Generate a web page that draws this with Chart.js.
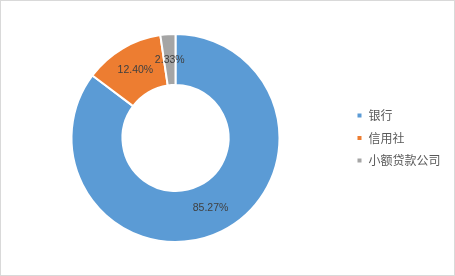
<!DOCTYPE html>
<html>
<head>
<meta charset="utf-8">
<script src="https://cdn.jsdelivr.net/npm/chart.js@4/dist/chart.umd.min.js"></script>
<style>
  html, body { margin: 0; padding: 0; background: #fff; }
  #wrap { position: relative; width: 455px; height: 276px; }
  #frame { position: absolute; left: 0; top: 0; width: 455px; height: 276px;
           box-sizing: border-box; border: 1px solid #d9d9d9; pointer-events: none; }
</style>
</head>
<body>
<div id="wrap">
  <canvas id="donut" width="455" height="276"></canvas>
  <div id="frame"></div>
</div>
<script>
// 数据
const categories = ["银行", "信用社", "小额贷款公司"];
const shares = [85.27, 12.40, 2.33];
const sliceColors = ["#5B9BD5", "#ED7D31", "#A5A5A5"];

// 扇区中间的百分比标签
const sliceLabels = {
    id: "sliceLabels",
    afterDatasetsDraw(chart) {
        const ctx = chart.ctx;
        const meta = chart.getDatasetMeta(0);
        ctx.save();
        ctx.font = "10.5px 'Liberation Sans', Arial, sans-serif";
        ctx.fillStyle = "#404040";
        ctx.textAlign = "center";
        ctx.textBaseline = "middle";
        meta.data.forEach((arc, i) => {
            const p = arc.getCenterPoint();
            ctx.fillText(shares[i].toFixed(2) + "%", p.x, p.y);
        });
        ctx.restore();
    }
};

const ctx = document.getElementById("donut").getContext("2d");
new Chart(ctx, {
    type: "doughnut",
    data: {
        labels: categories,
        datasets: [{
            data: shares,
            backgroundColor: sliceColors,
            borderColor: "#ffffff",
            borderWidth: 2
        }]
    },
    options: {
        responsive: false,
        animation: false,
        cutout: "51%",
        layout: { padding: { left: 5, right: 4.5, top: 33, bottom: 33 } },
        plugins: {
            tooltip: { enabled: false },
            legend: {
                position: "right",
                labels: {
                    boxWidth: 6,
                    boxHeight: 6,
                    padding: 10.5,
                    color: "#595959",
                    font: { size: 12, family: "'Noto Sans CJK SC', sans-serif" }
                }
            }
        }
    },
    plugins: [sliceLabels]
});
</script>
</body>
</html>
